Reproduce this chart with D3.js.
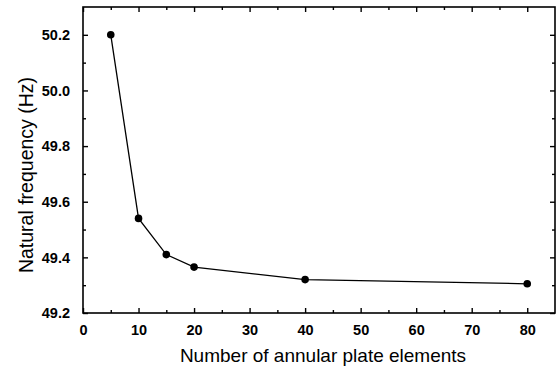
<!DOCTYPE html>
<html>
<head>
<meta charset="utf-8">
<script src="https://cdn.jsdelivr.net/npm/d3@7"></script>
<style>
	body { margin: 0; background: #fff; }
	text { font-family: "Liberation Sans", Arial, sans-serif; }
</style>
</head>
<body>
<svg id="chart" width="559" height="373"></svg>
<script>
// data
const elements = [5, 10, 15, 20, 40, 80];
const frequency = [50.20, 49.54, 49.41, 49.365, 49.32, 49.305];

const xTicks = [0, 10, 20, 30, 40, 50, 60, 70, 80];
const yTicks = [49.2, 49.4, 49.6, 49.8, 50.0, 50.2];
const xMinor = d3.range(5, 85, 10);
const yMinor = [49.3, 49.5, 49.7, 49.9, 50.1];

const margins = {top: 7, right: 4, bottom: 60, left: 83};
const W = 559, H = 373;
const innerW = W - margins.left - margins.right;
const innerH = H - margins.top - margins.bottom;

const svg = d3.select('#chart');
const g = svg.append('g').attr('transform', `translate(${margins.left},${margins.top})`);

const x = d3.scaleLinear().domain([0, 85]).range([0, innerW]);
const y = d3.scaleLinear().domain([49.2, 50.3]).range([innerH, 0]);

// frame
g.append('rect')
	.attr('width', innerW).attr('height', innerH)
	.attr('fill', 'none').attr('stroke', '#000').attr('stroke-width', 1.6);

// ticks (inward, mirrored on top / right)
const tickStyle = sel => sel.selectAll('.domain').remove();

g.append('g').attr('transform', `translate(0,${innerH})`)
	.call(d3.axisBottom(x).tickValues(xTicks).tickSize(-5).tickPadding(12).tickFormat(d3.format('d')))
	.call(tickStyle);
g.append('g').attr('transform', `translate(0,${innerH})`)
	.call(d3.axisBottom(x).tickValues(xMinor).tickSize(-3).tickFormat(''))
	.call(tickStyle);
g.append('g')
	.call(d3.axisTop(x).tickValues(xTicks).tickSize(-5).tickFormat(''))
	.call(tickStyle);
g.append('g')
	.call(d3.axisTop(x).tickValues(xMinor).tickSize(-3).tickFormat(''))
	.call(tickStyle);

g.append('g')
	.call(d3.axisLeft(y).tickValues(yTicks).tickSize(-5).tickPadding(13).tickFormat(d3.format('.1f')))
	.call(tickStyle);
g.append('g')
	.call(d3.axisLeft(y).tickValues(yMinor).tickSize(-3).tickFormat(''))
	.call(tickStyle);
g.append('g').attr('transform', `translate(${innerW},0)`)
	.call(d3.axisRight(y).tickValues(yTicks).tickSize(-5).tickFormat(''))
	.call(tickStyle);
g.append('g').attr('transform', `translate(${innerW},0)`)
	.call(d3.axisRight(y).tickValues(yMinor).tickSize(-3).tickFormat(''))
	.call(tickStyle);

g.selectAll('.tick line').attr('stroke', '#000').attr('stroke-width', 1.4);
g.selectAll('.tick text')
	.style('font-size', '14.5px').style('font-weight', 'bold').attr('fill', '#000')
	.style('font-family', '"Liberation Sans", Arial, sans-serif');

// axis labels
g.append('text')
	.attr('x', 240)
	.attr('y', innerH + 49)
	.attr('text-anchor', 'middle')
	.style('font-size', '19px')
	.text('Number of annular plate elements');

g.append('text')
	.attr('transform', 'rotate(-90)')
	.attr('x', -168)
	.attr('y', -50)
	.attr('text-anchor', 'middle')
	.style('font-size', '19.5px')
	.text('Natural frequency (Hz)');

// series
const points = elements.map((e, i) => ({x: e, y: frequency[i]}));

g.append('path')
	.datum(points)
	.attr('fill', 'none').attr('stroke', '#000').attr('stroke-width', 1.3)
	.attr('d', d3.line().x(d => x(d.x)).y(d => y(d.y)));

g.selectAll('circle').data(points).join('circle')
	.attr('cx', d => x(d.x)).attr('cy', d => y(d.y))
	.attr('r', 3.8).attr('fill', '#000');
</script>
</body>
</html>
